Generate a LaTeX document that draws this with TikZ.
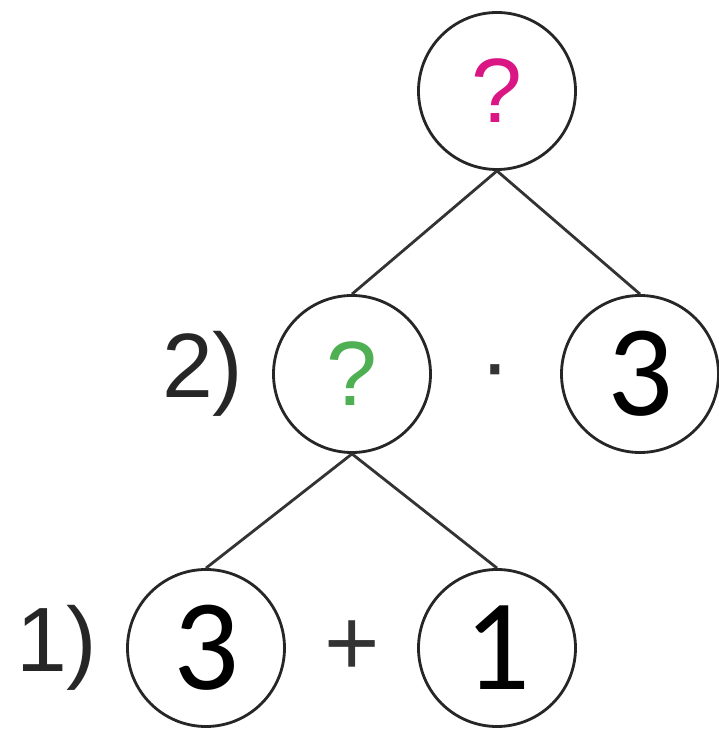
\documentclass[tikz,border=0pt]{standalone}
\usepackage{fontspec}
\setmainfont{Liberation Sans}
\newfontfamily\digitfont{Carlito}
\usepackage{tikz}
\usetikzlibrary{positioning}

\definecolor{qmagenta}{RGB}{218,22,132}
\definecolor{qgreen}{RGB}{78,176,82}

\begin{document}
\begin{tikzpicture}[
                treenode/.style={draw=black!85, line width=0.8pt, circle, minimum size=1.57cm, inner sep=0pt},
                numtext/.style={font=\fontsize{37}{37}\digitfont},
                qmark/.style={font=\fontsize{26}{26}\selectfont},
                steplabel/.style={inner sep=0pt, font=\fontsize{26}{26}\selectfont, text=black!85},
                opsign/.style={inner sep=0pt, font=\fontsize{27}{27}\selectfont, text=black!80},
                edge/.style={draw=black!80, line width=0.8pt}
            ]

            \useasboundingbox (0,0) rectangle (7.18,7.30);

            % Knoten
            \node[treenode, qmark, text=qmagenta] (root) at (4.97,6.39) {?};
            \node[treenode, qmark, text=qgreen] (prod) at (3.52,3.56) {?};
            \node[treenode, numtext] (three) at (6.40,3.56) {3};
            \node[treenode, numtext] (sumL) at (2.06,0.82) {3};
            \node[treenode, numtext] (sumR) at (4.97,0.82) {1};

            % Beschriftungen
            \node[steplabel, left=0.28cm of prod] (step2) {2)};
            \node[steplabel, left=0.28cm of sumL] (step1) {1)};
            \node[opsign] (times) at (4.95,3.50) {·};
            \node[opsign] (plus) at (3.52,0.82) {+};

            % Kanten zwischen Knoten
            \draw[edge] (root.south) -- (prod.north);
            \draw[edge] (root.south) -- (three.north);
            \draw[edge] (prod.south) -- (sumL.north);
            \draw[edge] (prod.south) -- (sumR.north);

        \end{tikzpicture}
\end{document}
